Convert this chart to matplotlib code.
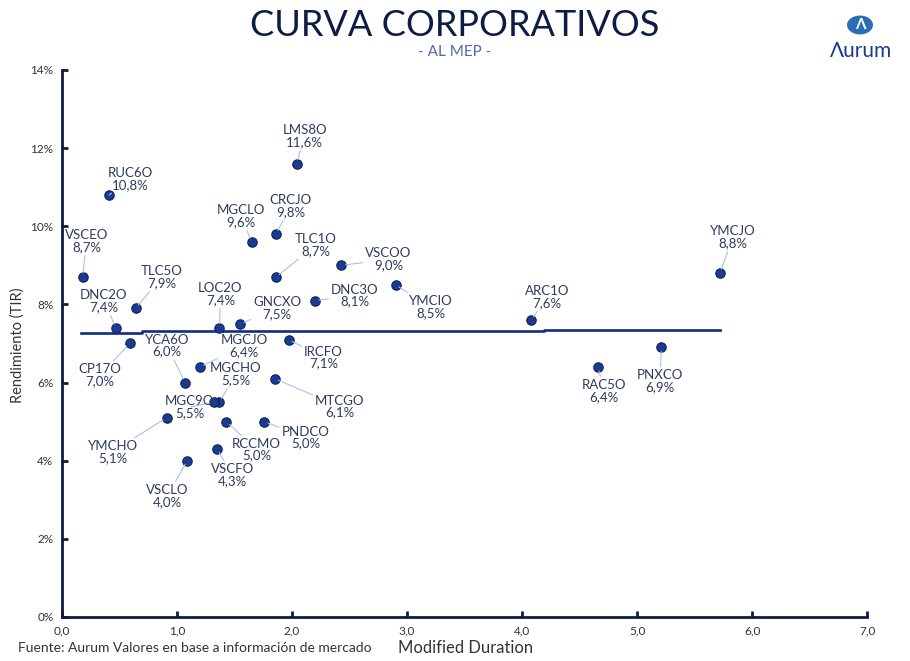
import numpy as np
import matplotlib.pyplot as plt
from matplotlib.patches import Circle

# datos: duracion modificada y TIR (%)
bonos = ["LMS8O", "RUC6O", "VSCEO", "DNC2O", "TLC5O", "MGCLO", "CRCJO", "TLC1O",
         "LOC2O", "GNCXO", "DNC3O", "VSCOO", "YMCIO", "ARC1O", "YMCJO", "PNXCO",
         "RAC5O", "CP17O", "YCA6O", "MGCJO", "IRCFO", "MGCHO", "MGC9O", "MTCGO",
         "YMCHO", "RCCMO", "PNDCO", "VSCFO", "VSCLO"]
duration = [2.04, 0.41, 0.18, 0.47, 0.64, 1.65, 1.86, 1.86,
            1.37, 1.55, 2.20, 2.43, 2.90, 4.08, 5.72, 5.21,
            4.66, 0.59, 1.07, 1.20, 1.97, 1.37, 1.32, 1.85,
            0.91, 1.43, 1.76, 1.35, 1.09]
tir = [11.6, 10.8, 8.7, 7.4, 7.9, 9.6, 9.8, 8.7,
       7.4, 7.5, 8.1, 9.0, 8.5, 7.6, 8.8, 6.9,
       6.4, 7.0, 6.0, 6.4, 7.1, 5.5, 5.5, 6.1,
       5.1, 5.0, 5.0, 4.3, 4.0]

# curva (linea horizontal)
curva_x = [0.17, 0.70, 0.70, 4.19, 4.19, 5.72]
curva_y = [7.28, 7.28, 7.31, 7.31, 7.34, 7.34]

# posicion de cada etiqueta respecto del punto (pixeles)
offsets = [(8, 28), (21, 16), (4, 36), (-12, 27), (26, 31), (-11, 26), (15, 28), (40, 32),
           (1, 34), (37, 16), (40, 5), (47, 6), (35, -22), (16, 23), (13, 36), (-1, -34),
           (6, -24), (-30, -32), (-18, 37), (44, 21), (35, -18), (16, 28), (-24, -5), (65, -28),
           (-54, -34), (30, -28), (41, -16), (15, -26), (-20, -35)]

navy = "#0c1c45"
label_col = "#2e3a60"
leader = "#a8c0ec"

plt.rcParams["font.family"] = ["Lato", "DejaVu Sans"]

fig = plt.figure(figsize=(9.1, 6.61), dpi=100)
ax = fig.add_axes([0.068, 0.0666, 0.885, 0.8275])

ax.plot(curva_x, curva_y, color="#102e80", lw=1.9, zorder=2)
ax.scatter(duration, tir, s=46, color="#1c3a8e", edgecolor="#0d2260", linewidth=0.8, zorder=4)

for name, x, y, off in zip(bonos, duration, tir, offsets):
    txt = f"{name}\n{y:.1f}%".replace(".", ",")
    ax.annotate(txt, (x, y), xytext=off, textcoords="offset pixels",
                ha="center", va="center", fontsize=9.5, color=label_col,
                linespacing=1.0, zorder=5,
                bbox=dict(boxstyle="square,pad=0.1", fc="none", ec="none"),
                arrowprops=dict(arrowstyle="-", color=leader, lw=0.8,
                                shrinkA=1, shrinkB=3))

ax.set_xlim(0, 7)
ax.set_ylim(0, 14)
ax.set_xticks(np.arange(0, 8, 1))
ax.set_xticklabels([f"{v:.1f}".replace(".", ",") for v in np.arange(0, 8, 1)])
ax.set_yticks(np.arange(0, 15, 2))
ax.set_yticklabels([f"{v}%" for v in range(0, 15, 2)])
for s in ["top", "right"]:
    ax.spines[s].set_visible(False)
for s in ["left", "bottom"]:
    ax.spines[s].set_color(navy)
    ax.spines[s].set_linewidth(2)
ax.tick_params(direction="in", length=4, width=2, color=navy, labelsize=8.5,
               labelcolor="#333333")
ax.tick_params(axis="x", pad=6)
ax.tick_params(axis="y", pad=6)

fig.text(18 / 910, 1 - 345 / 661, "Rendimiento (TIR)", rotation=90, ha="center",
         va="center", fontsize=10.5, color="#333333")
fig.text(0.5, 0.962, "CURVA CORPORATIVOS", ha="center", va="center",
         fontsize=26, color=navy)
fig.text(0.5, 0.921, "- AL MEP -", ha="center", va="center", fontsize=11,
         color="#5468b0")
fig.text(466 / 910, 0.019, "Modified Duration", ha="center", va="center",
         fontsize=12, color="#333333")
fig.text(0.020, 0.019, "Fuente: Aurum Valores en base a información de mercado",
         ha="left", va="center", fontsize=10, color="#333333")

# logo
fig.patches.append(Circle((860 / 910, 1 - 25 / 661), 13 / 910, transform=fig.transFigure,
                          facecolor="#2a6fb5", edgecolor="none"))
fig.text(860 / 910, 1 - 25 / 661, "\u039b", ha="center", va="center", fontsize=11,
         color="white", fontweight="bold")
fig.text(861 / 910, 1 - 51 / 661, "\u039burum", ha="center", va="center", fontsize=15,
         color="#1a3a8f")

fig.savefig("out.png", dpi=100)
